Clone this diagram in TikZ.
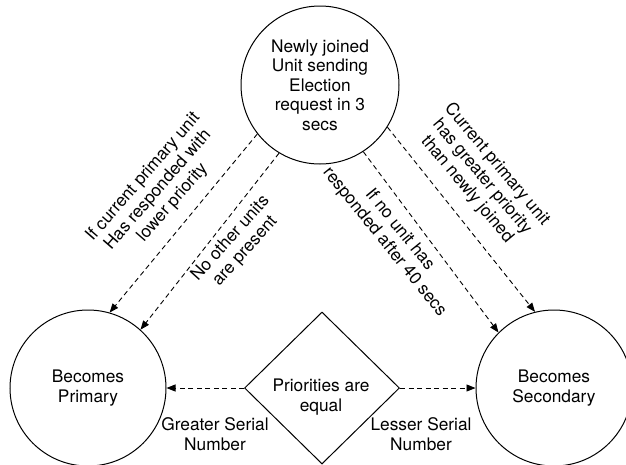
\documentclass[tikz,border=0pt]{standalone}
\usepackage{fontspec}
\setmainfont{TeX Gyre Heros}
\usetikzlibrary{shapes.geometric,arrows.meta}
\begin{document}
\begin{tikzpicture}[x=1pt,y=-1pt,
  every node/.style={font=\fontsize{17.3}{19.5}\selectfont},
  state/.style={circle,draw,line width=1pt,minimum size=158pt,inner sep=0pt,align=center},
  cond/.style={diamond,draw,line width=1pt,minimum width=155pt,minimum height=152pt,inner sep=0pt},
  flow/.style={draw,line width=0.9pt,dash pattern=on 5pt off 3.5pt,-{Triangle[length=9pt,width=7pt]}},
  lbl/.style={align=center,inner sep=0pt}]
\useasboundingbox (0,0) rectangle (626,464);
\node[state] (T) at (320,85) {Newly joined\\Unit sending\\Election\\request in 3\\secs};
\node[state,minimum size=156pt] (L) at (88,388) {Becomes\\Primary};
\node[state,minimum size=156pt] (R) at (554,388) {Becomes\\Secondary};
\node[cond] (D) at (322,388) {};
\node[lbl] (Dt) at (321,397) {Priorities are\\equal};
\draw[flow] (T.218) -- (L.74);
\draw[flow] (T.239) -- (L.48);
\draw[flow] (T.303) -- (R.135);
\draw[flow] (T.328) -- (R.104);
\draw[flow] (D.west) -- (L.east);
\draw[flow] (D.east) -- (R.west);
\node[lbl,rotate=49] (la) at (158,190) {If current primary unit\\Has responded with\\lower priority};
\node[lbl,rotate=48] (lb) at (238,245) {No other units\\are present};
\node[lbl,rotate=-51] (lc) at (392,236) {If no unit has\\responded after 40 secs};
\node[lbl,rotate=-50] (ld) at (482,177) {Current primary unit\\has greater priority\\than newly joined};
\node[lbl] (le) at (215,434) {Greater Serial\\Number};
\node[lbl] (lf) at (421,434) {Lesser Serial\\Number};
\end{tikzpicture}
\end{document}
